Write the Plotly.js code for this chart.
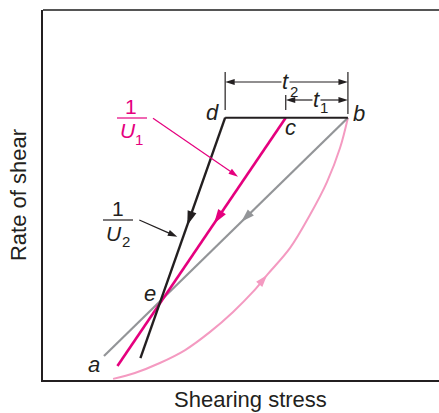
<!DOCTYPE html>
<html>
<head>
<meta charset="utf-8">
<script src="https://cdn.plot.ly/plotly-3.0.1.min.js"></script>
<style>html,body{margin:0;padding:0;background:#fff;}#chart{width:439px;height:413px;}</style>
</head>
<body>
<div id="chart"></div>
<script>
// ---- data (arbitrary units: shearing stress 0-100, rate of shear 0-100) ----
const pointNames  = ['a', 'b', 'c', 'd', 'e'];
const pointStress = [15.4, 77.0, 61.3, 46.0, 29.8];
const pointRate   = [6.5, 70.9, 70.9, 70.9, 21.6];

// loading curve (light pink), from origin area up to b
const curveStress = [17.7, 23.2, 29.5, 35.9, 42.2, 48.0, 53.0, 56.6, 62.4, 67.4, 71.7, 75.0, 77.0];
const curveRate   = [0.3, 1.9, 4.6, 8.1, 13.0, 18.4, 23.8, 28.4, 35.7, 44.6, 53.5, 62.7, 70.9];

// down curve b -> a (grey)
const downStress = [77.0, 15.4];
const downRate   = [70.9, 6.5];
// 1/U1 line c -> bottom (magenta)
const u1Stress = [61.3, 18.8];
const u1Rate   = [70.9, 3.8];
// 1/U2 line d -> bottom (black)
const u2Stress = [46.0, 24.6];
const u2Rate   = [70.9, 5.9];
// horizontal d -> b
const topStress = [46.0, 77.0];
const topRate   = [70.9, 70.9];

// ---- styling ----
const BLACK = '#231f20', MAGENTA = '#e5007e', PINK = '#f49ac1', GREY = '#939598';
const FONT = 'Liberation Sans, Arial, Helvetica, sans-serif';
// pixel -> data helpers for label placement (plot area 43..439 x 10..380)
const X = px => (px - 43) / 3.96;
const Y = py => (380 - py) / 3.7;

function lineTrace(xs, ys, color, width, shape) {
  return {x: xs, y: ys, mode: 'lines', type: 'scatter', hoverinfo: 'skip',
          line: {color: color, width: width, shape: shape || 'linear', smoothing: 1}};
}
// arrowhead marker at the second point, pointing along (p0 -> p1)
function headTrace(x0, y0, x1, y1, color, size, withLine, width) {
  return {x: [x0, x1], y: [y0, y1], type: 'scatter', hoverinfo: 'skip',
          mode: withLine ? 'lines+markers' : 'markers',
          line: {color: color, width: width || 1.2},
          marker: {symbol: 'arrow', angleref: 'previous', size: [0, size], color: color,
                   opacity: [0, 1], line: {width: 0}}};
}

const traces = [
  lineTrace(curveStress, curveRate, PINK, 2, 'spline'),
  lineTrace(downStress, downRate, GREY, 2.2),
  lineTrace(u1Stress, u1Rate, MAGENTA, 2.6),
  lineTrace(u2Stress, u2Rate, BLACK, 2.4),
  lineTrace(topStress, topRate, BLACK, 2)
];

function midHead(xs, ys, t, color, size) {
  const tx = xs[0] + t * (xs[1] - xs[0]), ty = ys[0] + t * (ys[1] - ys[0]);
  const bx = tx - 0.05 * (xs[1] - xs[0]), by = ty - 0.05 * (ys[1] - ys[0]);
  return headTrace(bx, by, tx, ty, color, size, false, 1);
}
traces.push(midHead(u2Stress, u2Rate, 0.447, BLACK, 15));
traces.push(midHead(u1Stress, u1Rate, 0.426, MAGENTA, 15));
traces.push(midHead(downStress, downRate, 0.437, GREY, 14));
// pink arrow on the loading curve (between points 6 and 7)
traces.push(headTrace(curveStress[6], curveRate[6], curveStress[7], curveRate[7], PINK, 13, false, 1));

// dimension arrows t2 (d..b) and t1 (c..b)
const t2y = Y(82), t1y = Y(100);
const t2mid = (pointStress[3] + pointStress[1]) / 2, t1mid = (pointStress[2] + pointStress[1]) / 2;
traces.push(headTrace(t2mid, t2y, pointStress[1], t2y, BLACK, 10, true, 1.2));
traces.push(headTrace(t2mid, t2y, pointStress[3], t2y, BLACK, 10, true, 1.2));
traces.push(headTrace(t1mid, t1y, pointStress[1], t1y, BLACK, 10, true, 1.2));
traces.push(headTrace(t1mid, t1y, pointStress[2], t1y, BLACK, 10, true, 1.2));

// pointer arrows for 1/U1 and 1/U2
traces.push(headTrace(X(153), Y(118.3), X(238), Y(176.7), MAGENTA, 10, true, 1.2));
traces.push(headTrace(X(139.3), Y(220), X(177.3), Y(236.7), BLACK, 10, true, 1.2));

const annotations = [];
function txt(px, py, s, size, color, bg) {
  const a = {x: X(px), y: Y(py), xref: 'x', yref: 'y', text: s, showarrow: false,
             font: {family: FONT, size: size, color: color}};
  if (bg) { a.bgcolor = '#ffffff'; a.borderpad = 0; }
  annotations.push(a);
}
// point labels
const labelShift = {a: [-10, -9], b: [11, 4], c: [5, -10], d: [-13, 5], e: [-11, 7]};
pointNames.forEach((n, i) => {
  annotations.push({x: pointStress[i], y: pointRate[i], xref: 'x', yref: 'y', text: '<i>' + n + '</i>',
    showarrow: false, xshift: labelShift[n][0], yshift: labelShift[n][1],
    font: {family: FONT, size: 22, color: BLACK}});
});
// t2 / t1 (subscript drawn as its own smaller text)
txt(285, 81, '<i>t</i>', 22, BLACK, true);
txt(293.5, 91, '2', 15, BLACK, false);
txt(316.5, 99, '<i>t</i>', 22, BLACK, true);
txt(323.5, 107, '1', 15, BLACK, false);
// 1/U1
txt(131, 106, '1', 21, MAGENTA);
txt(127.5, 130, '<i>U</i>', 21, MAGENTA);
txt(138.5, 139.5, '1', 15, MAGENTA);
// 1/U2
txt(118, 208, '1', 21, BLACK);
txt(114, 233, '<i>U</i>', 21, BLACK);
txt(125.5, 241, '2', 15, BLACK);
// x axis label
annotations.push({x: 0.525, y: (380 - 400) / 370, xref: 'paper', yref: 'paper', yanchor: 'middle',
  borderpad: 0, text: 'Shearing stress', showarrow: false, font: {family: FONT, size: 22, color: BLACK}});

const shapes = [
  // top frame line
  {type: 'line', xref: 'paper', yref: 'paper', x0: 0, x1: 1, y0: 1, y1: 1, line: {color: '#555555', width: 2}},
  // fraction bars
  {type: 'line', xref: 'x', yref: 'y', x0: X(117), x1: X(147), y0: Y(118), y1: Y(118), line: {color: MAGENTA, width: 1.2}},
  {type: 'line', xref: 'x', yref: 'y', x0: X(103), x1: X(133), y0: Y(220), y1: Y(220), line: {color: BLACK, width: 1.2}},
  // dimension extension lines
  {type: 'line', xref: 'x', yref: 'y', x0: pointStress[3], x1: pointStress[3], y0: Y(72), y1: Y(110), line: {color: BLACK, width: 1.2}},
  {type: 'line', xref: 'x', yref: 'y', x0: pointStress[2], x1: pointStress[2], y0: Y(95), y1: Y(110), line: {color: BLACK, width: 1.2}},
  {type: 'line', xref: 'x', yref: 'y', x0: pointStress[1], x1: pointStress[1], y0: Y(72), y1: Y(114), line: {color: BLACK, width: 1.2}}
];

const layout = {
  width: 439, height: 413,
  margin: {l: 43, r: 0, t: 10, b: 33, pad: 0},
  paper_bgcolor: '#ffffff', plot_bgcolor: '#ffffff',
  showlegend: false,
  font: {family: FONT, color: BLACK},
  xaxis: {range: [0, 100], showgrid: false, zeroline: false, showticklabels: false, ticks: '',
          showline: true, linecolor: BLACK, linewidth: 2, fixedrange: true},
  yaxis: {range: [0, 100], showgrid: false, zeroline: false, showticklabels: false, ticks: '',
          showline: true, linecolor: BLACK, linewidth: 2, fixedrange: true,
          title: {text: 'Rate of shear', standoff: 8, font: {family: FONT, size: 22, color: BLACK}}},
  annotations: annotations,
  shapes: shapes
};

Plotly.newPlot('chart', traces, layout, {staticPlot: true, displayModeBar: false});
</script>
</body>
</html>
